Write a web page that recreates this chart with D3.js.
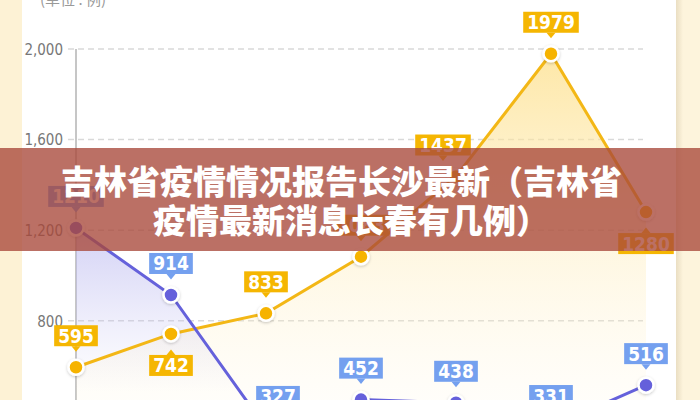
<!DOCTYPE html>
<html><head><meta charset="utf-8">
<script src="https://cdn.jsdelivr.net/npm/d3@7"></script>
<style>html,body{margin:0;padding:0;background:#fff;overflow:hidden}</style>
</head><body><svg id="c" width="700" height="400"></svg>
<script>
// ---- data ----
const categories = ["1", "2", "3", "4", "5", "6", "7"];
const yellowValues = [595, 742, 833, 1083, 1437, 1979, 1280];
const blueValues = [1210, 914, 327, 452, 438, 331, 516];
const yTicks = [800, 1200, 1600, 2000];
const unitLabel = "(单位 : 例)";
const titleLines = ["吉林省疫情情况报告长沙最新（吉林省", "疫情最新消息长春有几例）"];

// ---- style / layout config ----
const yellowSide = ["up", "down", "up", "up", "up", "up", "down"];
const blueSide = ["up", "up", "up", "up", "up", "up", "up"];
const yellowNudge = [0, 0, 0, 0, -13, 0, 0];
const blueNudge = [0, 0, 12, 0, 0, 0, 0];
const YEL = "#f5b602", YEL_BOX = "#f5b602";
const BLU = "#6561db", BLU_BOX = "#74a0ef";

const svg = d3.select("#c");
const W = 700, H = 400;
const x = d3.scalePoint().domain(categories).range([76, 646]);
const y = d3.scaleLinear().domain([0, 2000]).range([502, 49]);

const defs = svg.append("defs");
const yg = defs.append("linearGradient").attr("id", "yg").attr("gradientUnits", "userSpaceOnUse")
  .attr("x1", 0).attr("x2", 0).attr("y1", 50).attr("y2", 405);
yg.append("stop").attr("offset", 0).attr("stop-color", "#fddf88").attr("stop-opacity", 0.75);
yg.append("stop").attr("offset", 1).attr("stop-color", "#fff4d6").attr("stop-opacity", 0.12);
const bg = defs.append("linearGradient").attr("id", "bg").attr("x1", 0).attr("x2", 0).attr("y1", 0).attr("y2", 1);
bg.append("stop").attr("offset", 0).attr("stop-color", "#b5b3ee").attr("stop-opacity", 0.6);
bg.append("stop").attr("offset", 0.6).attr("stop-color", "#c8c6f3").attr("stop-opacity", 0);
const sh = defs.append("linearGradient").attr("id", "sh").attr("x1", 0).attr("x2", 1).attr("y1", 0).attr("y2", 0);
sh.append("stop").attr("offset", 0).attr("stop-color", "#e8dcc0").attr("stop-opacity", 0.9);
sh.append("stop").attr("offset", 1).attr("stop-color", "#fdf4dc").attr("stop-opacity", 1);
const f = defs.append("filter").attr("id", "ds").attr("x", "-50%").attr("y", "-50%").attr("width", "200%").attr("height", "200%");
f.append("feDropShadow").attr("dx", 0).attr("dy", 1).attr("stdDeviation", 1.5).attr("flood-color", "#000").attr("flood-opacity", 0.22);

// backgrounds
svg.append("rect").attr("x", 0).attr("y", 0).attr("width", W).attr("height", H).attr("fill", "#ffffff");
svg.append("rect").attr("x", 0).attr("y", 0).attr("width", 22).attr("height", H).attr("fill", "#fdf2d5");
svg.append("rect").attr("x", 676).attr("y", 0).attr("width", 24).attr("height", H).attr("fill", "#fdf4dc");
svg.append("rect").attr("x", 676).attr("y", 0).attr("width", 7).attr("height", H).attr("fill", "url(#sh)");

// grid
const grid = svg.append("g");
grid.selectAll("line").data(yTicks).join("line")
  .attr("x1", 68).attr("x2", 643).attr("y1", d => y(d)).attr("y2", d => y(d))
  .attr("stroke", "#d9d9d9").attr("stroke-width", 1.5).attr("stroke-dasharray", "6,4");

// y axis via d3 axis
const yAxis = d3.axisLeft(y).tickValues(yTicks).tickFormat(d3.format(",")).tickSize(0).tickPadding(0);
const ag = svg.append("g").attr("transform", "translate(63,0)").call(yAxis);
ag.select(".domain").remove();
ag.selectAll("text").attr("font-family", "'Liberation Sans Narrow','DejaVu Sans Condensed',sans-serif")
  .attr("font-size", 15).attr("fill", "#777").attr("dy", "0.35em");
svg.append("line").attr("x1", 76).attr("x2", 76).attr("y1", y(2000)).attr("y2", H)
  .attr("stroke", "#b3b3b3").attr("stroke-width", 1.5);

// areas
const yArea = d3.area().x((d, i) => x(categories[i])).y0(502).y1(d => y(d));
const line = d3.line().x((d, i) => x(categories[i])).y(d => y(d));
svg.append("path").datum(yellowValues).attr("d", yArea).attr("fill", "url(#yg)");
svg.append("path").datum(blueValues).attr("d", yArea).attr("fill", "url(#bg)");

// lines
svg.append("path").datum(yellowValues).attr("d", line).attr("fill", "none").attr("stroke", "#f3b716").attr("stroke-width", 3);
svg.append("path").datum(blueValues).attr("d", line).attr("fill", "none").attr("stroke", BLU).attr("stroke-width", 3);

// points
function pts(vals, col) {
  svg.append("g").selectAll("circle").data(vals).join("circle")
    .attr("cx", (d, i) => x(categories[i])).attr("cy", d => y(d)).attr("r", 7.5)
    .attr("fill", col).attr("stroke", "#fff").attr("stroke-width", 2.5).attr("filter", "url(#ds)");
}
pts(yellowValues, "#f6b300");
pts(blueValues, BLU);

// labels
const lg = svg.append("g");
function labels(vals, sides, nudges, col) {
  vals.forEach((v, i) => {
    const px = x(categories[i]), py = y(v);
    const cx = px + nudges[i];
    const g = lg.append("g");
    const t = g.append("text").text(v)
      .attr("font-family", "'Liberation Sans Narrow','DejaVu Sans Condensed',sans-serif")
      .attr("font-weight", "bold").attr("font-size", 19).attr("fill", "#fff")
      .attr("text-anchor", "middle");
    const tw = t.node().getComputedTextLength();
    const bw = tw + 8, bh = 21;
    let by, tri;
    if (sides[i] === "up") {
      by = py - 21 - bh;
      tri = [[cx - 4.5, py - 21], [cx + 4.5, py - 21], [cx, py - 15.5]];
    } else {
      by = py + 21;
      tri = [[cx - 4.5, py + 21], [cx + 4.5, py + 21], [cx, py + 15.5]];
    }
    g.insert("rect", "text").attr("x", cx - bw / 2).attr("y", by).attr("width", bw).attr("height", bh).attr("fill", col);
    g.insert("path", "text").attr("d", d3.line()(tri) + "Z").attr("fill", col);
    t.attr("x", cx).attr("y", by + bh / 2 + 7);
  });
}
labels(yellowValues, yellowSide, yellowNudge, YEL_BOX);
labels(blueValues, blueSide, blueNudge, BLU_BOX);

// unit label
svg.append("text").text(unitLabel).attr("x", 40).attr("y", 5)
  .attr("font-family", "'Noto Sans CJK SC',sans-serif").attr("font-size", 15).attr("fill", "#999");

// banner
svg.append("rect").attr("x", 0).attr("y", 148).attr("width", W).attr("height", 103).attr("fill", "rgba(168,72,58,0.78)");
const tg = svg.append("g").attr("font-family", "'Noto Sans CJK SC',sans-serif").attr("font-weight", 900)
  .attr("font-size", 33).attr("fill", "#fff");
tg.append("text").text(titleLines[0]).attr("x", 61).attr("y", 180).attr("dominant-baseline", "central");
tg.append("text").text(titleLines[1]).attr("x", 153).attr("y", 219).attr("dominant-baseline", "central");
</script></body></html>
